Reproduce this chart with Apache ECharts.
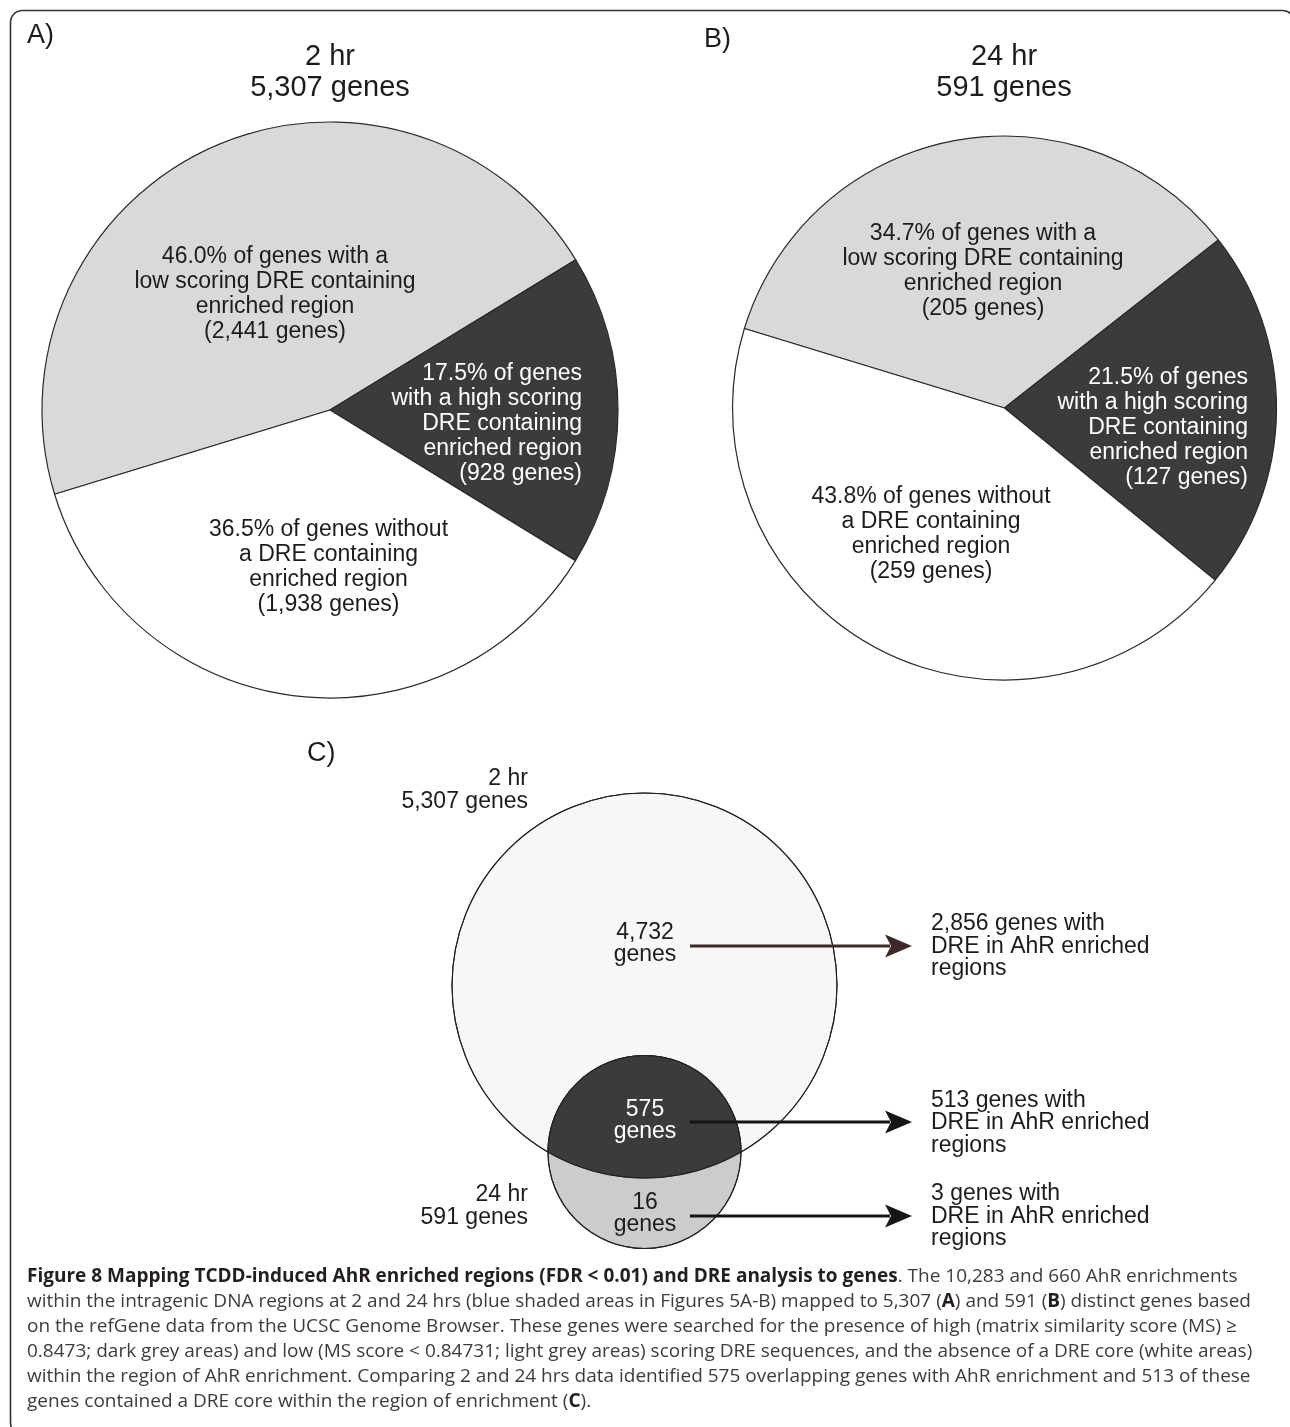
<!DOCTYPE html>
<html>
<head>
<meta charset="utf-8">
<script src="https://cdn.jsdelivr.net/npm/echarts@6/dist/echarts.min.js"></script>
<style>
  html, body { margin: 0; padding: 0; background: #ffffff; }
  #main { width: 1290px; height: 1427px; }
</style>
</head>
<body>
<div id="main"></div>
<script>
// ---- data ----
const categories = ['low', 'high', 'none'];
const genes2hr = [2441, 928, 1938];      // low-scoring DRE, high-scoring DRE, no DRE
const genes24hr = [205, 127, 259];
const pieTitles = [['2 hr', '5,307 genes'], ['24 hr', '591 genes']];
const vennSets = [['2 hr', '5,307 genes'], ['24 hr', '591 genes']];
const vennRegions = [4732, 575, 16];     // 2 hr only, overlap, 24 hr only
const dreCounts = [2856, 513, 3];        // genes with DRE in each Venn region
const captionBold = 'Figure 8 Mapping TCDD-induced AhR enriched regions (FDR < 0.01) and DRE analysis to genes';
const captionLines = [
  [['b', captionBold], ['n', '. The 10,283 and 660 AhR enrichments']],
  [['n', 'within the intragenic DNA regions at 2 and 24 hrs (blue shaded areas in Figures 5A-B) mapped to 5,307 ('], ['b', 'A'], ['n', ') and 591 ('], ['b', 'B'], ['n', ') distinct genes based']],
  [['n', 'on the refGene data from the UCSC Genome Browser. These genes were searched for the presence of high (matrix similarity score (MS) \u2265']],
  [['n', '0.8473; dark grey areas) and low (MS score < 0.84731; light grey areas) scoring DRE sequences, and the absence of a DRE core (white areas)']],
  [['n', 'within the region of AhR enrichment. Comparing 2 and 24 hrs data identified 575 overlapping genes with AhR enrichment and 513 of these']],
  [['n', 'genes contained a DRE core within the region of enrichment ('], ['b', 'C'], ['n', ').']]
];

// ---- styling / layout ----
const FONT = "'Liberation Sans', Arial, Helvetica, sans-serif";
const CAP_FONT = "'Open Sans', 'Noto Sans', sans-serif";
const CAP_SIZE = 19;
const sliceColors = { low: '#d9d9db', high: '#3d3a3a', none: '#ffffff' };
const sliceTextColors = { low: '#1c1c1c', high: '#ffffff', none: '#1c1c1c' };
const sliceLines = {
  low: ['{p}% of genes with a', 'low scoring DRE containing', 'enriched region', '({n} genes)'],
  high: ['{p}% of genes', 'with a high scoring', 'DRE containing', 'enriched region', '({n} genes)'],
  none: ['{p}% of genes without', 'a DRE containing', 'enriched region', '({n} genes)']
};
const pies = [
  { values: genes2hr, center: [330, 410], r: 288, start: 197,
    labels: [[275, 294.5, 'center'], [582, 424, 'right'], [328.5, 567.5, 'center']], title: [330, 72.5] },
  { values: genes24hr, center: [1004.5, 408], r: 272, start: 163,
    labels: [[983, 271.5, 'center'], [1248, 428, 'right'], [931, 534.5, 'center']], title: [1004, 72.5] }
];

const fmt = v => v.toLocaleString('en-US');

const series = pies.map((pie, si) => {
  const total = pie.values.reduce((a, b) => a + b, 0);
  return {
    type: 'pie',
    center: pie.center,
    radius: pie.r,
    startAngle: pie.start,
    clockwise: true,
    avoidLabelOverlap: false,
    silent: true,
    animation: false,
    itemStyle: { borderColor: '#2a2a2a', borderWidth: 1.2 },
    labelLine: { show: false },
    data: categories.map((c, i) => ({
      name: c,
      value: pie.values[i],
      itemStyle: { color: sliceColors[c] },
      label: {
        show: true,
        position: 'inside',
        color: sliceTextColors[c],
        fontFamily: FONT,
        fontSize: 23,
        lineHeight: 25,
        align: pie.labels[i][2],
        formatter: () => sliceLines[c].join('\n')
          .replace('{p}', (pie.values[i] / total * 100).toFixed(1))
          .replace('{n}', fmt(pie.values[i]))
      }
    })),
    labelLayout: p => {
      const a = pie.labels[p.dataIndex];
      return { x: a[0], y: a[1], align: a[2], verticalAlign: 'middle' };
    }
  };
});

// ---- graphic elements ----
const g = [];
const txt = (text, x, y, opt) => g.push({
  type: 'text', silent: true, z: 10,
  style: Object.assign({ text, x, y, fill: '#1c1c1c', fontFamily: FONT, fontSize: 23,
    align: 'center', verticalAlign: 'middle', lineHeight: 23 }, opt || {})
});

// outer frame
g.push({ type: 'rect', silent: true, z: 1,
  shape: { x: 10.5, y: 10.5, width: 1284, height: 1424, r: 12 },
  style: { fill: 'none', stroke: '#333333', lineWidth: 1.6 } });

// panel letters
txt('A)', 27, 36, { align: 'left', fontSize: 27 });
txt('B)', 704, 40, { align: 'left', fontSize: 27 });
txt('C)', 307, 754, { align: 'left', fontSize: 27 });

// pie titles
pies.forEach((pie, i) => txt(pieTitles[i].join('\n'), pie.title[0], pie.title[1],
  { fontSize: 29, lineHeight: 31 }));

// Venn diagram geometry
const big = { cx: 644.5, cy: 985.5, r: 192.5 };
const small = { cx: 644.5, cy: 1152, r: 96.5 };
const d = small.cy - big.cy;
const a = (d * d + big.r * big.r - small.r * small.r) / (2 * d);
const yi = big.cy + a;
const phiS = Math.asin(Math.min(1, (yi - small.cy) / small.r));   // on small circle
const phiB = Math.asin(Math.min(1, (yi - big.cy) / big.r));       // on big circle
const lens = [];
const N = 160;
// upper arc of the small circle (inside the big one)
for (let k = 0; k <= N; k++) {
  const t = (Math.PI - phiS) + (Math.PI + 2 * phiS) * k / N;
  lens.push([small.cx + small.r * Math.cos(t), small.cy + small.r * Math.sin(t)]);
}
// lower arc of the big circle back to the start
for (let k = 0; k <= N; k++) {
  const t = phiB + (Math.PI - 2 * phiB) * k / N;
  lens.push([big.cx + big.r * Math.cos(t), big.cy + big.r * Math.sin(t)]);
}
g.push({ type: 'circle', silent: true, z: 2, shape: { cx: big.cx, cy: big.cy, r: big.r },
  style: { fill: '#f7f7f7', stroke: '#222', lineWidth: 1.1 } });
g.push({ type: 'circle', silent: true, z: 3, shape: { cx: small.cx, cy: small.cy, r: small.r },
  style: { fill: '#cccccc', stroke: '#222', lineWidth: 1.1 } });
g.push({ type: 'polygon', silent: true, z: 4, shape: { points: lens },
  style: { fill: '#3d3a3a', stroke: '#2a2828', lineWidth: 1 } });
g.push({ type: 'circle', silent: true, z: 5, shape: { cx: big.cx, cy: big.cy, r: big.r },
  style: { fill: 'none', stroke: '#222', lineWidth: 1.1 } });
g.push({ type: 'circle', silent: true, z: 5, shape: { cx: small.cx, cy: small.cy, r: small.r },
  style: { fill: 'none', stroke: '#222', lineWidth: 1.1 } });

// Venn set names
txt(vennSets[0].join('\n'), 528, 790, { align: 'right' });
txt(vennSets[1].join('\n'), 528, 1206.5, { align: 'right' });

// region counts, arrows and DRE notes
const regionY = [944, 1121, 1213.5];
const regionColor = ['#1c1c1c', '#ffffff', '#1c1c1c'];
const arrowY = [946, 1122, 1216];
const arrowColor = ['#3e2929', '#151515', '#151515'];
const noteY = [946.5, 1123, 1216.5];
vennRegions.forEach((n, i) => {
  txt(fmt(n) + '\ngenes', 645, regionY[i], { fill: regionColor[i], lineHeight: 22 });
  const y = arrowY[i];
  g.push({ type: 'line', silent: true, z: 6, shape: { x1: 690, y1: y, x2: 890, y2: y },
    style: { stroke: arrowColor[i], lineWidth: 3.2 } });
  g.push({ type: 'polygon', silent: true, z: 6,
    shape: { points: [[912, y], [885, y - 11.5], [891, y], [885, y + 11.5]] },
    style: { fill: arrowColor[i] } });
  txt(fmt(dreCounts[i]) + ' genes with\nDRE in AhR enriched\nregions', 931, noteY[i],
    { align: 'left', lineHeight: 22.5 });
});

// caption
captionLines.forEach((parts, i) => {
  g.push({ type: 'text', silent: true, z: 10,
    style: {
      text: parts.map(p => '{' + p[0] + '|' + p[1] + '}').join(''),
      x: 27, y: 1277 + i * 25, align: 'left', verticalAlign: 'middle',
      fontFamily: CAP_FONT, fontSize: CAP_SIZE,
      rich: {
        b: { fontFamily: CAP_FONT, fontSize: CAP_SIZE, fontWeight: 'bold', fill: '#231f20' },
        n: { fontFamily: CAP_FONT, fontSize: CAP_SIZE, fill: '#3c3c3c' }
      }
    } });
});

const chart = echarts.init(document.getElementById('main'), null, { renderer: 'canvas' });
chart.setOption({
  animation: false,
  backgroundColor: '#ffffff',
  series: series,
  graphic: { elements: g }
});
</script>
</body>
</html>
